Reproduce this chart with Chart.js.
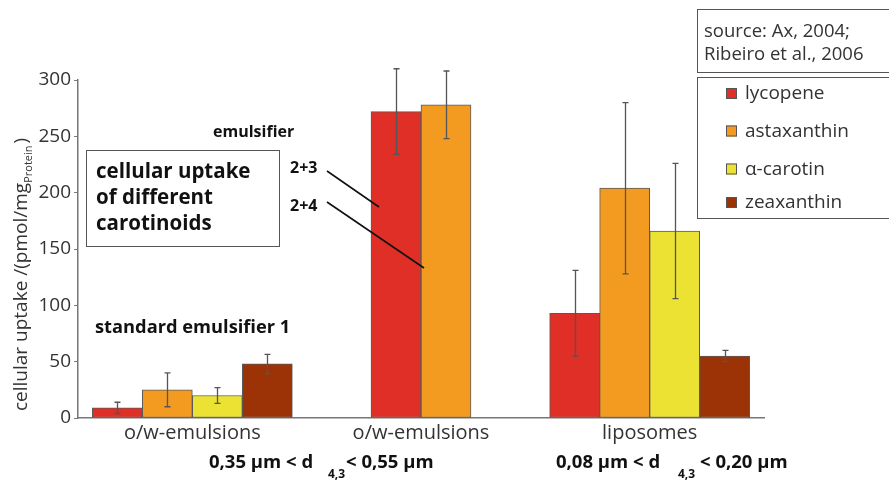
<!DOCTYPE html>
<html>
<head>
<meta charset="utf-8">
<script src="https://cdn.jsdelivr.net/npm/chart.js@4.4.1/dist/chart.umd.min.js"></script>
<style>
  html, body { margin: 0; padding: 0; background: #fff; }
  #wrap { width: 889px; height: 481px; position: relative; }
</style>
</head>
<body>
<div id="wrap"><canvas id="c" width="889" height="481"></canvas></div>
<script>
// Carrier systems on the x axis
const categories = ['o/w-emulsions', 'o/w-emulsions', 'liposomes'];
const yTicks = [0, 50, 100, 150, 200, 250, 300];

// Cellular uptake (pmol/mg protein), mean and error per carrier
const lycopene      = [9, 272, 93];
const lycopeneErr   = [5, 38, 38];
const astaxanthin   = [25, 278, 204];
const astaxanthinErr= [15, 30, 76];
const alphaCarotin  = [20, null, 166];
const alphaCarotinErr = [7, null, 60];
const zeaxanthin    = [48, null, 55];
const zeaxanthinErr = [8.5, null, 5];

const FONT = '"Open Sans", "DejaVu Sans", sans-serif';
const INK = '#333333';

// error whiskers drawn on top of each bar
const errorBars = {
  id: 'errorBars',
  afterDatasetsDraw(chart) {
    const ctx = chart.ctx;
    const y = chart.scales.y;
    ctx.save();
    ctx.strokeStyle = '#555555';
    ctx.lineWidth = 1.3;
    chart.data.datasets.forEach((ds, i) => {
      const meta = chart.getDatasetMeta(i);
      meta.data.forEach((bar, j) => {
        const v = ds.data[j], e = ds.errors[j];
        if (v == null || e == null) return;
        const x = Math.round(bar.x) + 0.5;
        const yt = y.getPixelForValue(v + e), yb = y.getPixelForValue(v - e);
        ctx.beginPath();
        ctx.moveTo(x, yt); ctx.lineTo(x, yb);
        ctx.moveTo(x - 3, yt); ctx.lineTo(x + 3, yt);
        ctx.moveTo(x - 3, yb); ctx.lineTo(x + 3, yb);
        ctx.stroke();
      });
    });
    ctx.restore();
  }
};

// annotations, axis title with subscript, size classes, source and legend boxes
const decorations = {
  id: 'decorations',
  afterDraw(chart) {
    const ctx = chart.ctx;
    ctx.save();
    ctx.fillStyle = INK;
    ctx.textBaseline = 'alphabetic';

    // y axis title: cellular uptake /(pmol/mg_Protein)
    ctx.save();
    ctx.translate(27, 411);
    ctx.rotate(-Math.PI / 2);
    ctx.textAlign = 'left';
    ctx.font = '19px ' + FONT;
    const t1 = 'cellular uptake /(pmol/mg';
    ctx.fillText(t1, 0, 0);
    let w = ctx.measureText(t1).width;
    ctx.font = '11px ' + FONT;
    ctx.fillText('Protein', w, 5);
    w += ctx.measureText('Protein').width;
    ctx.font = '19px ' + FONT;
    ctx.fillText(')', w + 2, 0);
    ctx.restore();

    // title box
    ctx.strokeStyle = '#555555';
    ctx.lineWidth = 1;
    ctx.strokeRect(86.5, 150.5, 193, 96);
    ctx.font = 'bold 20.5px ' + FONT;
    ctx.textAlign = 'left';
    ctx.fillStyle = '#111111';
    ctx.fillText('cellular uptake', 96, 178);
    ctx.fillText('of different', 96, 204);
    ctx.fillText('carotinoids', 96, 230);

    // emulsifier annotations
    ctx.font = 'bold 16px ' + FONT;
    ctx.fillText('emulsifier', 213, 137);
    ctx.fillText('2+3', 290, 173);
    ctx.fillText('2+4', 290, 211);
    ctx.strokeStyle = '#111111';
    ctx.lineWidth = 1.6;
    ctx.beginPath();
    ctx.moveTo(327, 171); ctx.lineTo(379, 207);
    ctx.moveTo(327, 202); ctx.lineTo(424, 268);
    ctx.stroke();
    ctx.font = 'bold 18.3px ' + FONT;
    ctx.fillText('standard emulsifier 1', 95, 333);

    // droplet size classes, d with subscript 4,3
    ctx.fillStyle = '#111111';
    const sizeLine = (x, a, xs, xb, b) => {
      ctx.font = 'bold 18.5px ' + FONT;
      ctx.fillText(a, x, 468);
      ctx.font = 'bold 12px ' + FONT;
      ctx.fillText('4,3', xs, 478);
      ctx.font = 'bold 18.5px ' + FONT;
      ctx.fillText(b, xb, 468);
    };
    sizeLine(209, '0,35 µm < d', 328, 346, '< 0,55 µm');
    sizeLine(556, '0,08 µm < d', 678, 700, '< 0,20 µm');

    // source box
    ctx.strokeStyle = '#555555';
    ctx.lineWidth = 1;
    ctx.strokeRect(697.5, 9.5, 200, 63);
    ctx.fillStyle = INK;
    ctx.font = '18.5px ' + FONT;
    ctx.fillText('source: Ax, 2004;', 704, 37);
    ctx.fillText('Ribeiro et al., 2006', 704, 60);

    // legend box built from the datasets
    ctx.strokeRect(697.5, 77.5, 200, 141);
    const rows = [94, 131.5, 169.5, 203];
    chart.data.datasets.forEach((ds, i) => {
      const cy = rows[i];
      ctx.fillStyle = ds.backgroundColor;
      ctx.fillRect(726, cy - 6, 11, 11);
      ctx.strokeStyle = '#555555';
      ctx.strokeRect(726.5, cy - 5.5, 10, 10);
      ctx.fillStyle = INK;
      ctx.font = '19px ' + FONT;
      ctx.textBaseline = 'middle';
      ctx.fillText(ds.label, 745, cy);
    });
    ctx.restore();
  }
};

const mk = (label, data, errors, color) => ({
  label, data, errors,
  backgroundColor: color,
  borderColor: '#5a5a5a',
  borderWidth: 1,
  borderSkipped: false,
  barThickness: 50,
  skipNull: true
});

new Chart(document.getElementById('c'), {
  type: 'bar',
  data: {
    labels: categories,
    datasets: [
      mk('lycopene', lycopene, lycopeneErr, '#E02F26'),
      mk('astaxanthin', astaxanthin, astaxanthinErr, '#F39A21'),
      mk('α-carotin', alphaCarotin, alphaCarotinErr, '#EBE233'),
      mk('zeaxanthin', zeaxanthin, zeaxanthinErr, '#9C3306')
    ]
  },
  options: {
    responsive: false,
    animation: false,
    layout: { padding: { left: 0, right: 125, top: 80, bottom: 0 } },
    plugins: { legend: { display: false }, tooltip: { enabled: false } },
    scales: {
      x: {
        afterFit(s) { s.height = 63; },
        grid: { display: false, drawTicks: false },
        border: { color: '#777777', width: 1.5 },
        ticks: { color: INK, font: { family: FONT, size: 20 }, padding: 3, maxRotation: 0 }
      },
      y: {
        min: 0, max: 300,
        afterFit(s) { s.width = 78; },
        afterBuildTicks(s) { s.ticks = yTicks.map(v => ({ value: v })); },
        grid: { drawOnChartArea: false, drawTicks: true, tickLength: 4, color: '#777777' },
        border: { color: '#777777', width: 1.5 },
        ticks: { color: INK, font: { family: FONT, size: 19 }, padding: 3 }
      }
    }
  },
  plugins: [errorBars, decorations]
});
</script>
</body>
</html>
